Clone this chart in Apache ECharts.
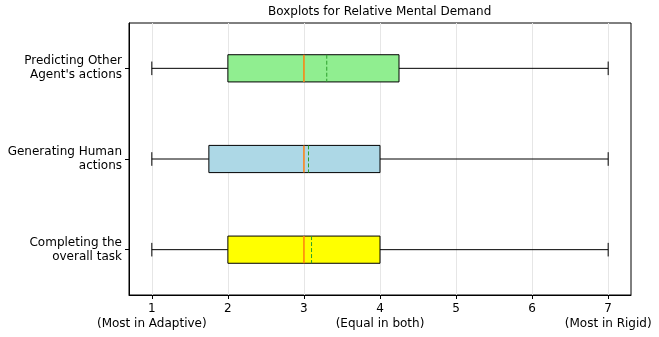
<!DOCTYPE html>
<html>
<head>
<meta charset="utf-8">
<script src="https://cdn.jsdelivr.net/npm/echarts@6/dist/echarts.min.js"></script>
<style>html,body{margin:0;padding:0;background:#fff}#c{width:659px;height:337px}</style>
</head>
<body>
<div id="c"></div>
<script>
// Categories from bottom to top
const categories = ['Completing the\noverall task', 'Generating Human\nactions', "Predicting Other\nAgent's actions"];
const whiskerLow = [1, 1, 1];
const q1 = [2, 1.75, 2];
const medians = [3, 3, 3];
const q3 = [4, 4, 4.25];
const whiskerHigh = [7, 7, 7];
const means = [3.1, 3.06, 3.3];
const boxColors = ['#ffff00', '#add8e6', '#90ee90'];
const tickValues = [1, 2, 3, 4, 5, 6, 7];
const tickLabels = ['1\n(Most in Adaptive)', '2', '3', '4\n(Equal in both)', '5', '6', '7\n(Most in Rigid)'];

const data = categories.map((c, i) => [i, whiskerLow[i], q1[i], medians[i], q3[i], whiskerHigh[i], means[i]]);

function renderItem(params, api) {
  const ci = api.value(0);
  const y = api.coord([0, ci])[1];
  const band = api.size([0, 1])[1];
  const bh = band * 0.3;
  const ch = band * 0.15;
  const x = v => api.coord([v, ci])[0];
  const xmin = x(api.value(1)), xq1 = x(api.value(2)), xmed = x(api.value(3)),
        xq3 = x(api.value(4)), xmax = x(api.value(5)), xmean = x(api.value(6));
  const black = {stroke: '#000', lineWidth: 1};
  return {
    type: 'group',
    children: [
      {type: 'line', shape: {x1: xmin, y1: y, x2: xq1, y2: y}, style: black},
      {type: 'line', shape: {x1: xq3, y1: y, x2: xmax, y2: y}, style: black},
      {type: 'line', shape: {x1: xmin, y1: y - ch / 2, x2: xmin, y2: y + ch / 2}, style: black},
      {type: 'line', shape: {x1: xmax, y1: y - ch / 2, x2: xmax, y2: y + ch / 2}, style: black},
      {type: 'rect', shape: {x: xq1, y: y - bh / 2, width: xq3 - xq1, height: bh}, style: {fill: boxColors[ci], stroke: '#000', lineWidth: 1}},
      {type: 'line', shape: {x1: xmed, y1: y - bh / 2, x2: xmed, y2: y + bh / 2}, style: {stroke: '#ff7f0e', lineWidth: 1.5}},
      {type: 'line', shape: {x1: xmean, y1: y - bh / 2, x2: xmean, y2: y + bh / 2}, style: {stroke: '#2ca02c', lineWidth: 1, lineDash: [4, 2]}}
    ]
  };
}

const chart = echarts.init(document.getElementById('c'), null, {renderer: 'canvas'});
chart.setOption({
  animation: false,
  textStyle: {fontFamily: 'DejaVu Sans'},
  title: {
    text: 'Boxplots for Relative Mental Demand',
    left: 263, top: 1,
    textStyle: {fontFamily: 'DejaVu Sans', fontSize: 12, fontWeight: 'normal', color: '#000'}
  },
  grid: {left: 129, right: 28, top: 23, bottom: 42, show: true, borderColor: '#000', borderWidth: 1, backgroundColor: 'transparent'},
  xAxis: {
    type: 'value', min: 0.7, max: 7.3,
    axisLine: {show: true, onZero: false, lineStyle: {color: '#000'}},
    axisTick: {show: true, length: 4, customValues: tickValues, lineStyle: {color: '#000'}},
    axisLabel: {
      customValues: tickValues,
      formatter: v => tickLabels[tickValues.indexOf(Math.round(v))],
      color: '#000', fontSize: 12, fontFamily: 'DejaVu Sans', lineHeight: 15, margin: 6
    },
    splitLine: {show: true, lineStyle: {color: '#e6e6e6', width: 1}}
  },
  yAxis: {
    type: 'category', data: categories,
    axisLine: {show: true, lineStyle: {color: '#000'}},
    axisTick: {show: true, length: 4, alignWithLabel: true, lineStyle: {color: '#000'}},
    axisLabel: {color: '#000', fontSize: 12, fontFamily: 'DejaVu Sans', lineHeight: 14, margin: 7, align: 'right', padding: [3, 0, 0, 0]},
    splitLine: {show: false}
  },
  series: [{
    type: 'custom',
    renderItem: renderItem,
    encode: {x: [1, 2, 3, 4, 5, 6], y: 0},
    data: data
  }]
});
</script>
</body>
</html>
